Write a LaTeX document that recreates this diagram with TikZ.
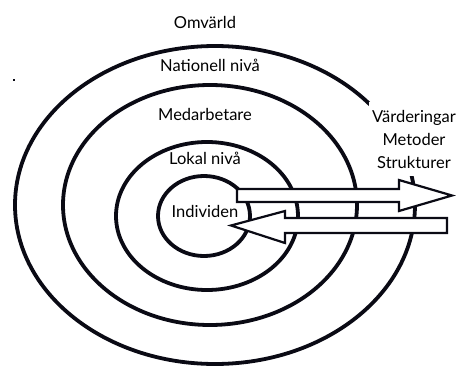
\documentclass[tikz,border=0pt]{standalone}
\usepackage{fontspec}
\setmainfont{Lato}
\usepackage{tikz}
\usetikzlibrary{
  arrows.meta,
  positioning,
  calc
}
\definecolor{ringInk}{HTML}{0A0A14}
\tikzset{
  ring/.style={draw=ringInk, line width=3.8pt},
  levellabel/.style={font=\fontsize{16.5}{18}\selectfont, inner sep=1pt},
  valuebox/.style={fill=white, align=center, inner xsep=3pt, inner ysep=8pt,
    font=\fontsize{16.5}{23}\selectfont},
  blockarrow/.style={draw=ringInk, line width=2.2pt, fill=white, line join=miter}
}

\begin{document}
\begin{tikzpicture}[x=1pt, y=-1pt]
  \useasboundingbox (0,0) rectangle (467,370);
  % levels, outermost first
  \draw[ring] (215,205) ellipse [x radius=200, y radius=159];
  \draw[ring] (210,205) ellipse [x radius=147, y radius=120];
  \draw[ring] (207,216) ellipse [x radius=91, y radius=74];
  \draw[ring] (204,216) ellipse [x radius=46, y radius=40];

  \node[levellabel] (omv) at (205,22) {Omvärld};
  \node[levellabel] (nat) at (210,65) {Nationell nivå};
  \node[levellabel] (med) at (205,114) {Medarbetare};
  \node[levellabel] (lok) at (205,158) {Lokal nivå};
  \node[levellabel] (ind) at (205,211) {Individen};

  \node[valuebox] (vals) at (414,139) {Värderingar\\Metoder\\Strukturer};

  % outward and inward arrows
  \draw[blockarrow] (237,189) -- (399,189) -- (399,180) -- (452,195.5)
    -- (399,211) -- (399,202) -- (237,202) -- cycle;
  \draw[blockarrow] (447,218) -- (285,218) -- (285,211) -- (231,225.5)
    -- (285,243) -- (285,233) -- (447,233) -- cycle;

  \fill[ringInk] (13,79) rectangle (15,81);
\end{tikzpicture}
\end{document}
